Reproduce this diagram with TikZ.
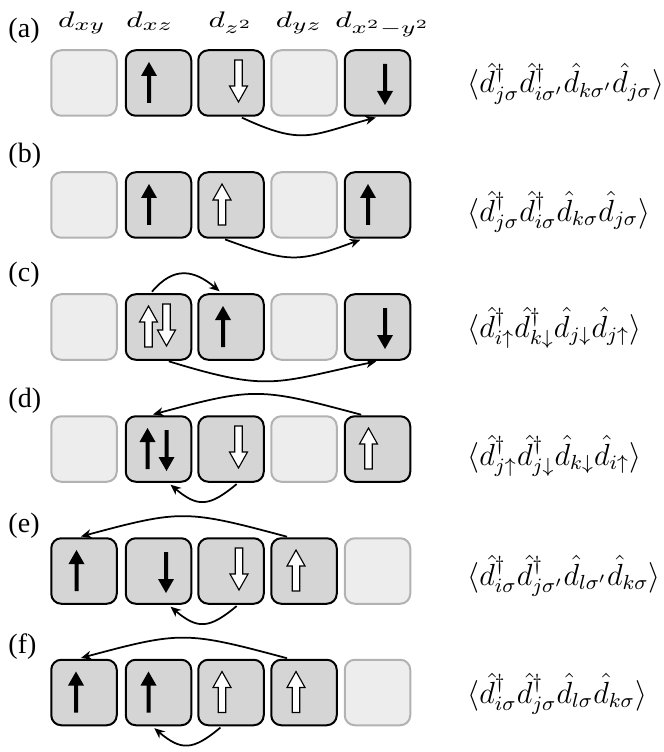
\documentclass[tikz,border=0pt]{standalone}
\usepackage{fontspec}
\newfontfamily\lblfont{Liberation Serif}
\usetikzlibrary{arrows.meta,calc}
\definecolor{boxgray}{gray}{0.835}
\definecolor{lightfill}{gray}{0.93}
\definecolor{lightborder}{gray}{0.70}
\tikzset{
  fbox/.style={draw=black, line width=0.8pt, fill=boxgray, rounded corners=4pt,
    minimum width=26.2pt, minimum height=26.2pt, inner sep=0pt},
  ebox/.style={draw=lightborder, line width=0.8pt, fill=lightfill, rounded corners=4pt,
    minimum width=26.2pt, minimum height=26.2pt, inner sep=0pt},
  conn/.style={-{Stealth[length=4.2pt,width=3.6pt]}, line width=0.7pt,
    shorten <=0.8pt, shorten >=1.2pt},
  hdr/.style={anchor=base, inner sep=0pt},
  lbl/.style={anchor=base west, inner sep=0pt, font=\lblfont\fontsize{11.2}{13}\selectfont},
  frm/.style={anchor=base west, inner sep=0pt, font=\fontsize{12}{15}\selectfont},
  pics/bup/.style={code={\fill[black] (0,-21) -- (8,-7) -- (2,-7) -- (2,20) -- (-2,20) -- (-2,-7) -- (-8,-7) -- cycle;}},
  pics/bdown/.style={code={\fill[black] (0,22) -- (8,8) -- (2,8) -- (2,-19) -- (-2,-19) -- (-2,8) -- (-8,8) -- cycle;}},
  pics/hup/.style={code={\filldraw[fill=white, draw=black, line width=0.45pt] (0,-21) -- (9,-5) -- (3.8,-5) -- (3.8,20) -- (-3.8,20) -- (-3.8,-5) -- (-9,-5) -- cycle;}},
  pics/hdown/.style={code={\filldraw[fill=white, draw=black, line width=0.45pt] (0,19) -- (9,3) -- (3.8,3) -- (3.8,-23) -- (-3.8,-23) -- (-3.8,3) -- (-9,3) -- cycle;}},
}
\newcommand{\hd}[1]{\scalebox{1.35}[1]{\fontsize{9.5}{11}\selectfont$#1$}}
\newcommand{\fm}[1]{\scalebox{1.02}{$#1$}}
\begin{document}
\begin{tikzpicture}[x=0.4pt, y=-0.4pt]
\useasboundingbox (0,0) rectangle (663,752);

% headers
\node[hdr] (h1) at (82,28) {\hd{d_{xy}}};
\node[hdr] (h2) at (150,28) {\hd{d_{xz}}};
\node[hdr] (h3) at (231,28) {\hd{d_{z^2}}};
\node[hdr] (h4) at (299,28) {\hd{d_{yz}}};
\node[hdr] (h5) at (383,28) {\hd{d_{x^2-y^2}}};

% labels
\node[lbl] (la) at (8,38) {(a)};
\node[lbl] (lb) at (8,163) {(b)};
\node[lbl] (lc) at (8,282) {(c)};
\node[lbl] (ld) at (8,407) {(d)};
\node[lbl] (le) at (8,532) {(e)};
\node[lbl] (lf) at (8,653) {(f)};

% row a
\node[ebox] (a1) at (84,83) {};
\node[fbox] (a2) at (158.5,83) {};
\node[fbox] (a3) at (231,83) {};
\node[ebox] (a4) at (304,83) {};
\node[fbox] (a5) at (377.5,83) {};
\pic at ($(a2)+(-9.5,0)$) {bup};
\pic at ($(a3)+(7.5,0)$) {hdown};
\pic at ($(a5)+(7.5,0)$) {bdown};
\draw[conn] (a3.-75) to[out=-25,in=195,looseness=1.3] (a5.-88);
\node[frm] (fa) at (467,93) {\fm{\langle\hat{d}^{\dagger}_{j\sigma}\hat{d}^{\dagger}_{i\sigma'}\hat{d}_{k\sigma'}\hat{d}_{j\sigma}\rangle}};

% row b
\node[ebox] (b1) at (84,205) {};
\node[fbox] (b2) at (158.5,205) {};
\node[fbox] (b3) at (231,205) {};
\node[ebox] (b4) at (304,205) {};
\node[fbox] (b5) at (377.5,205) {};
\pic at ($(b2)+(-9.5,0)$) {bup};
\pic at ($(b3)+(-9,0)$) {hup};
\pic at ($(b5)+(-9.5,0)$) {bup};
\draw[conn] (b3.-103) to[out=-20,in=200,looseness=1.3] (b5.-113);
\node[frm] (fb) at (467,221) {\fm{\langle\hat{d}^{\dagger}_{j\sigma}\hat{d}^{\dagger}_{i\sigma}\hat{d}_{k\sigma}\hat{d}_{j\sigma}\rangle}};

% row c
\node[ebox] (c1) at (84,327) {};
\node[fbox] (c2) at (158.5,327) {};
\node[fbox] (c3) at (231,327) {};
\node[ebox] (c4) at (304,327) {};
\node[fbox] (c5) at (377.5,327) {};
\pic at ($(c2)+(-10,0)$) {hup};
\pic at ($(c2)+(8,0)$) {hdown};
\pic at ($(c3)+(-8,0)$) {bup};
\pic at ($(c5)+(7.5,0)$) {bdown};
\draw[conn] (c2.103) to[out=50,in=140,looseness=1.3] (c3.105);
\draw[conn] (c2.-76) to[out=-17,in=192,looseness=1.3] (c5.-87);
\node[frm] (fc) at (467,337) {\fm{\langle\hat{d}^{\dagger}_{i\uparrow}\hat{d}^{\dagger}_{k\downarrow}\hat{d}_{j\downarrow}\hat{d}_{j\uparrow}\rangle}};

% row d
\node[ebox] (d1) at (84,449) {};
\node[fbox] (d2) at (158.5,449) {};
\node[fbox] (d3) at (231,449) {};
\node[ebox] (d4) at (304,449) {};
\node[fbox] (d5) at (377.5,449) {};
\pic at ($(d2)+(-11,0)$) {bup};
\pic at ($(d2)+(8,0)$) {bdown};
\pic at ($(d3)+(7.5,0)$) {hdown};
\pic at ($(d5)+(-9,0)$) {hup};
\draw[conn] (d5.113) to[out=165,in=15,looseness=1.3] (d2.104);
\draw[conn] (d3.-78) to[out=220,in=-40,looseness=1.4] (d2.-74);
\node[frm] (fd) at (467,465) {\fm{\langle\hat{d}^{\dagger}_{j\uparrow}\hat{d}^{\dagger}_{j\downarrow}\hat{d}_{k\downarrow}\hat{d}_{i\uparrow}\rangle}};

% row e
\node[fbox] (e1) at (84,571) {};
\node[fbox] (e2) at (158.5,571) {};
\node[fbox] (e3) at (231,571) {};
\node[fbox] (e4) at (304,571) {};
\node[ebox] (e5) at (377.5,571) {};
\pic at ($(e1)+(-7.5,0)$) {bup};
\pic at ($(e2)+(7.5,0)$) {bdown};
\pic at ($(e3)+(8,0)$) {hdown};
\pic at ($(e4)+(-8,0)$) {hup};
\draw[conn] (e4.114) to[out=165,in=15,looseness=1.3] (e1.100);
\draw[conn] (e3.-78) to[out=220,in=-40,looseness=1.4] (e2.-74);
\node[frm] (fe) at (467,585) {\fm{\langle\hat{d}^{\dagger}_{i\sigma}\hat{d}^{\dagger}_{j\sigma'}\hat{d}_{l\sigma'}\hat{d}_{k\sigma}\rangle}};

% row f
\node[fbox] (f1) at (84,692.5) {};
\node[fbox] (f2) at (158.5,692.5) {};
\node[fbox] (f3) at (231,692.5) {};
\node[fbox] (f4) at (304,692.5) {};
\node[ebox] (f5) at (377.5,692.5) {};
\pic at ($(f1)+(-8,0)$) {bup};
\pic at ($(f2)+(-10,0)$) {bup};
\pic at ($(f3)+(-9,0)$) {hup};
\pic at ($(f4)+(-8,0)$) {hup};
\draw[conn] (f4.114) to[out=165,in=15,looseness=1.3] (f1.100);
\draw[conn] (f3.-105) to[out=220,in=-40,looseness=1.4] (f2.-101);
\node[frm] (ff) at (467,703) {\fm{\langle\hat{d}^{\dagger}_{i\sigma}\hat{d}^{\dagger}_{j\sigma}\hat{d}_{l\sigma}\hat{d}_{k\sigma}\rangle}};
\end{tikzpicture}
\end{document}
